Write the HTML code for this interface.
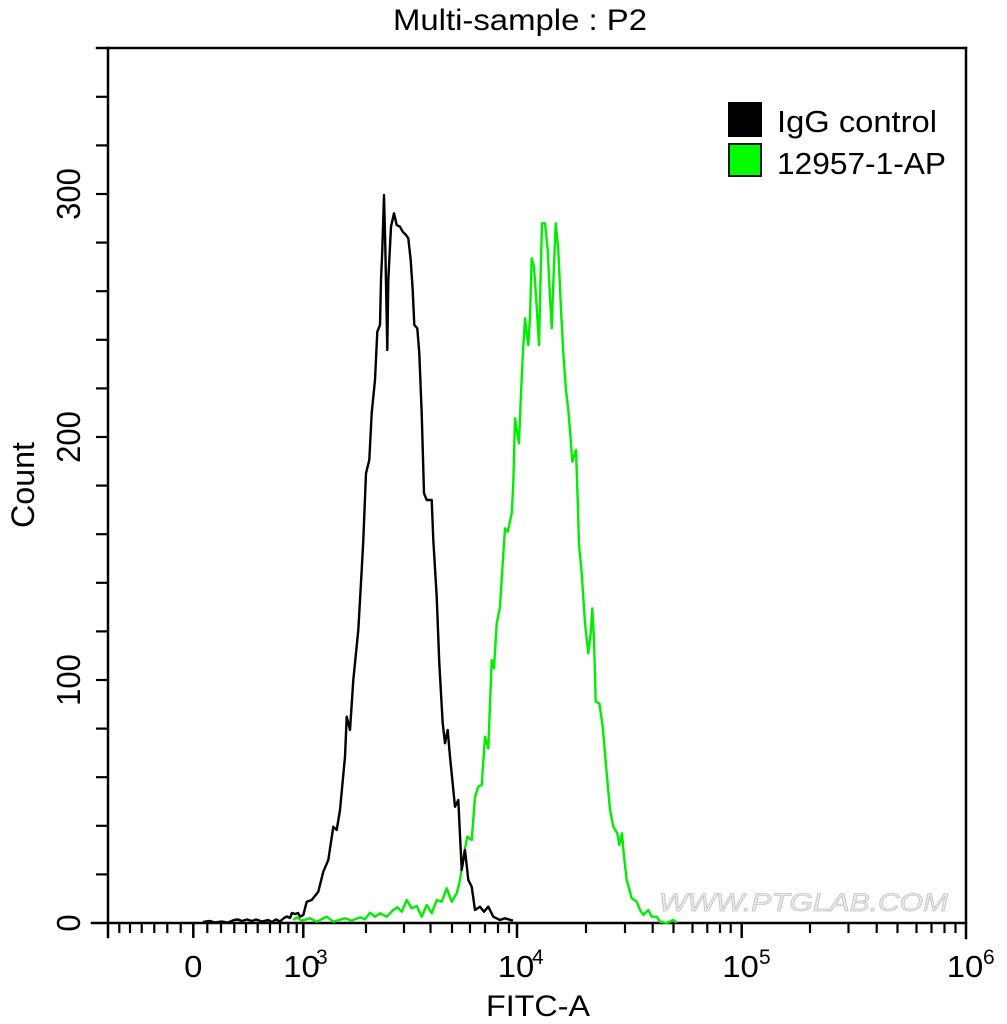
<!DOCTYPE html>
<html>
<head>
<meta charset="utf-8">
<style>
html,body{margin:0;padding:0;background:#fff;}
svg{display:block;}
text{font-family:"Liberation Sans",Arial,sans-serif;fill:#000;}
</style>
</head>
<body>
<svg width="1007" height="1024" viewBox="0 0 1007 1024" xmlns="http://www.w3.org/2000/svg">
<rect x="0" y="0" width="1007" height="1024" fill="#fff"/>

<!-- Title -->
<text x="393" y="30" font-size="30" textLength="254" lengthAdjust="spacingAndGlyphs">Multi-sample : P2</text>

<!-- Watermark -->
<text x="659" y="911" font-size="25" textLength="289" lengthAdjust="spacingAndGlyphs" style="fill:#ececec;stroke:#c4c4c4;stroke-width:0.8;font-style:italic;">WWW.PTGLAB.COM</text>

<!-- Frame -->
<g stroke="#000" stroke-width="2.5" fill="none" stroke-linecap="square">
  <line x1="108" y1="48" x2="108" y2="937"/>
  <line x1="97" y1="48" x2="966" y2="48"/>
  <line x1="966" y1="48" x2="966" y2="938"/>
  <line x1="92" y1="923" x2="966" y2="923"/>
</g>

<!-- Y ticks -->
<g stroke="#000" stroke-width="2.2">
  <line x1="96" y1="874.4" x2="108" y2="874.4"/>
  <line x1="96" y1="825.8" x2="108" y2="825.8"/>
  <line x1="96" y1="777.2" x2="108" y2="777.2"/>
  <line x1="96" y1="728.6" x2="108" y2="728.6"/>
  <line x1="96" y1="680" x2="108" y2="680"/>
  <line x1="96" y1="631.4" x2="108" y2="631.4"/>
  <line x1="96" y1="582.8" x2="108" y2="582.8"/>
  <line x1="96" y1="534.2" x2="108" y2="534.2"/>
  <line x1="96" y1="485.6" x2="108" y2="485.6"/>
  <line x1="96" y1="437" x2="108" y2="437"/>
  <line x1="96" y1="388.4" x2="108" y2="388.4"/>
  <line x1="96" y1="339.8" x2="108" y2="339.8"/>
  <line x1="96" y1="291.2" x2="108" y2="291.2"/>
  <line x1="96" y1="242.6" x2="108" y2="242.6"/>
  <line x1="96" y1="194" x2="108" y2="194"/>
  <line x1="96" y1="145.4" x2="108" y2="145.4"/>
  <line x1="96" y1="96.8" x2="108" y2="96.8"/>
</g>

<!-- Y tick labels -->
<text font-size="31" text-anchor="middle" transform="translate(80,923) rotate(-90) scale(1,1.08)">0</text>
<text font-size="31" text-anchor="middle" transform="translate(80,680) rotate(-90) scale(1,1.08)">100</text>
<text font-size="31" text-anchor="middle" transform="translate(80,437) rotate(-90) scale(1,1.08)">200</text>
<text font-size="31" text-anchor="middle" transform="translate(80,194) rotate(-90) scale(1,1.08)">300</text>

<!-- Y axis title -->
<text font-size="30" text-anchor="middle" textLength="86" lengthAdjust="spacingAndGlyphs" transform="translate(34,485) rotate(-90) scale(1,1.08)">Count</text>

<!-- X major ticks -->
<g stroke="#000" stroke-width="2.5">
  <line x1="193.3" y1="923" x2="193.3" y2="938"/>
  <line x1="303.3" y1="923" x2="303.3" y2="938"/>
  <line x1="517" y1="923" x2="517" y2="938"/>
  <line x1="741.7" y1="923" x2="741.7" y2="938"/>
</g>
<!-- X minor ticks -->
<g stroke="#000" stroke-width="2.2">
  <line x1="119.3" y1="923" x2="119.3" y2="933"/>
  <line x1="130" y1="923" x2="130" y2="933"/>
  <line x1="141.7" y1="923" x2="141.7" y2="933"/>
  <line x1="154.3" y1="923" x2="154.3" y2="933"/>
  <line x1="167.3" y1="923" x2="167.3" y2="933"/>
  <line x1="180.7" y1="923" x2="180.7" y2="933"/>
  <line x1="207.3" y1="923" x2="207.3" y2="933"/>
  <line x1="221" y1="923" x2="221" y2="933"/>
  <line x1="234.3" y1="923" x2="234.3" y2="933"/>
  <line x1="246" y1="923" x2="246" y2="933"/>
  <line x1="257.7" y1="923" x2="257.7" y2="933"/>
  <line x1="270" y1="923" x2="270" y2="933"/>
  <line x1="280" y1="923" x2="280" y2="933"/>
  <line x1="288.3" y1="923" x2="288.3" y2="933"/>
  <line x1="296.7" y1="923" x2="296.7" y2="933"/>
  <line x1="366" y1="923" x2="366" y2="933"/>
  <line x1="404" y1="923" x2="404" y2="933"/>
  <line x1="430.5" y1="923" x2="430.5" y2="933"/>
  <line x1="452" y1="923" x2="452" y2="933"/>
  <line x1="470" y1="923" x2="470" y2="933"/>
  <line x1="485" y1="923" x2="485" y2="933"/>
  <line x1="498" y1="923" x2="498" y2="933"/>
  <line x1="509" y1="923" x2="509" y2="933"/>
  <line x1="586" y1="923" x2="586" y2="933"/>
  <line x1="625" y1="923" x2="625" y2="933"/>
  <line x1="652.7" y1="923" x2="652.7" y2="933"/>
  <line x1="673.5" y1="923" x2="673.5" y2="933"/>
  <line x1="692.5" y1="923" x2="692.5" y2="933"/>
  <line x1="707.3" y1="923" x2="707.3" y2="933"/>
  <line x1="720" y1="923" x2="720" y2="933"/>
  <line x1="730.7" y1="923" x2="730.7" y2="933"/>
  <line x1="810" y1="923" x2="810" y2="933"/>
  <line x1="848.5" y1="923" x2="848.5" y2="933"/>
  <line x1="876.7" y1="923" x2="876.7" y2="933"/>
  <line x1="897.5" y1="923" x2="897.5" y2="933"/>
  <line x1="916.5" y1="923" x2="916.5" y2="933"/>
  <line x1="931.5" y1="923" x2="931.5" y2="933"/>
  <line x1="944.5" y1="923" x2="944.5" y2="933"/>
  <line x1="955.5" y1="923" x2="955.5" y2="933"/>
</g>

<!-- X tick labels -->
<text font-size="31" text-anchor="middle" transform="translate(193.3,977) scale(1.06,1)">0</text>
<text font-size="31" text-anchor="middle" transform="translate(301.5,977) scale(1.06,1)">10</text>
<text font-size="21" x="316" y="964">3</text>
<text font-size="31" text-anchor="middle" transform="translate(516,977) scale(1.06,1)">10</text>
<text font-size="21" x="532" y="964">4</text>
<text font-size="31" text-anchor="middle" transform="translate(740.5,977) scale(1.06,1)">10</text>
<text font-size="21" x="759" y="964">5</text>
<text font-size="31" text-anchor="middle" transform="translate(965,977) scale(1.06,1)">10</text>
<text font-size="21" x="983" y="964">6</text>

<!-- X axis title -->
<text x="486" y="1016" font-size="30" textLength="104" lengthAdjust="spacingAndGlyphs">FITC-A</text>

<!-- Green series -->
<polyline fill="none" stroke="#00ee00" stroke-width="2.4" stroke-linejoin="round" points="
293.3,920 296.7,917.3 301.7,920.7 310,918.3 316.7,921.7 326.7,916.7 333.3,921.7 345,918.3 351.7,920.7 360,917.3 365,919.3 370,912.7 375,916.7 380,913.3 386.7,916.7 393.3,910 397.3,907.3 401.7,911.7 406.7,900 411.7,908.3 416.7,906 421.7,916.7 426.7,905 431.7,913.3 436.7,900 441.7,901.7 446.7,888.3 451.7,901.7 456.7,893.3 460,880 463.3,856.7 467.3,836.7 471.7,840 475,796.7 478.3,786.7 481.7,785 485,736.7 488.3,748.3 491.7,660 494,668.3 496.7,623.3 500,606.7 502.7,563.3 505,528.3 507.7,531.7 511.7,513.3 513.3,483.3 515,418.3 517.3,433.3 519,443.3 520.7,400 522.7,356.7 525,318.3 526.7,333.3 528.3,345 530,316.7 531.7,258.3 534,266.7 536.7,306.7 539,345 541,260 542,223.3 545,223.3 547.7,250 550,296.7 551.7,328.3 553.3,283.3 555.7,223.3 558.3,250 561,310 563.3,353.3 566,390 568.3,410 570.7,440 572.3,461.7 576,450 577.7,500 579,545 581.7,573.3 585,623.3 588.3,653.3 590.7,633.3 592.3,608.3 594,640 595.7,701.7 599.3,703.3 602.7,726.7 606.7,773.3 610,810 613.3,826.7 617.3,833.3 619.3,845 622,833.3 624,856.7 626.7,880 631.7,898.3 636.7,901.7 640,910 643.3,915 648.3,910 651.7,916.7 656.7,916.7 660,921.7 666.7,923 673.3,920 676.7,922.7"/>

<!-- Black series -->
<polyline fill="none" stroke="#000" stroke-width="2.4" stroke-linejoin="round" points="
203,922 210,921 215,922.5 222,921.5 228,922.5 234,920 238,919.5 242,921 247,919.5 252,921 256,919.5 262,921.5 268,920 272,922 276,919.5 280,921.5 284,918 287,916.5 290,918 292,913 295,914 298,913 300,916.7 303.3,915 306.7,901.7 311.7,900 318.3,891.7 323.3,871.7 328.3,860 333.3,826.7 336.7,830 340,810 345,756.7 346.7,716.7 350,730 353.3,680 358.3,630 361.7,570 363.3,540 366,473.3 369.3,460 371.7,413 375,380 377.3,331.7 380,325 381,280 382.3,250 384,195 385.3,246.7 387.3,350 388.3,280 391,226.7 394,213.3 396.7,225 400,226.7 402.7,231.7 406,235 408.3,238.3 410.7,260 412.7,290 414.3,325 417.3,328.3 419.3,353.3 421.7,413.3 424,493.3 426.7,500 431.7,500 433.3,540 436.7,596.7 439.3,663.3 442.7,723.3 445,743.3 447.7,730 450,756.7 455,806.7 458.3,800 461.7,870 465,850 468.3,880 471.7,886.7 475,910 480,906.7 484,911.7 488.3,906.7 493.3,916.7 500,920 505,918.3 513,920.7"/>

<!-- Legend -->
<rect x="728" y="102" width="34" height="35" fill="#000"/>
<rect x="729" y="144" width="32" height="32" fill="#00ff00" stroke="#1a1a1a" stroke-width="2"/>
<text x="777" y="132" font-size="31" textLength="160" lengthAdjust="spacingAndGlyphs">IgG control</text>
<text x="777" y="174" font-size="31" textLength="169" lengthAdjust="spacingAndGlyphs">12957-1-AP</text>
</svg>
</body>
</html>
